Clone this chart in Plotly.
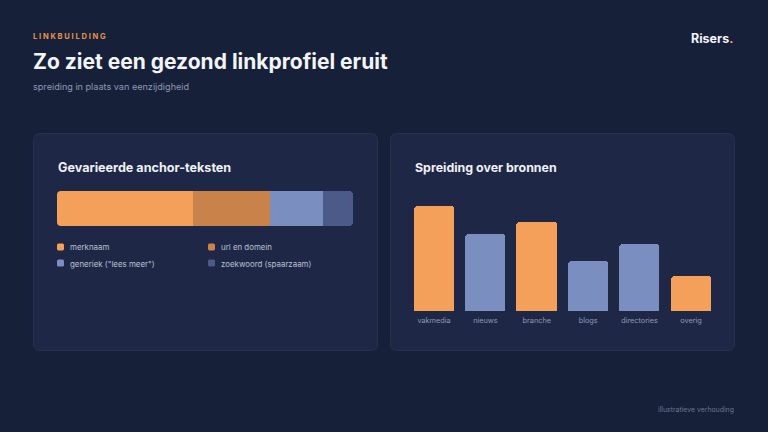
import re
import plotly.graph_objects as go

W, H = 768, 432

# ---- data ----
anchor_labels = ["merknaam", "url en domein", 'generiek ("lees meer")', "zoekwoord (spaarzaam)"]
anchor_values = [46, 26, 18, 10]
anchor_colors = ["#f5a05a", "#c8824a", "#7b8ec0", "#4b5a88"]

source_labels = ["vakmedia", "nieuws", "branche", "blogs", "directories", "overig"]
source_values = [100, 73, 85, 48, 64, 34]
source_colors = ["#f5a05a", "#7b8ec0", "#f5a05a", "#7b8ec0", "#7b8ec0", "#f5a05a"]

BG = "#172039"
CARD = "#1e2846"
CARD_BORDER = "#28324f"
FONT = "Inter"


def px(x):
    return x / W


def py(y):
    return 1 - y / H


fig = go.Figure()

# stacked anchor bar
for lab, val, col in zip(anchor_labels, anchor_values, anchor_colors):
    fig.add_trace(go.Bar(
        x=[val], y=["a"], orientation="h", name=lab,
        marker=dict(color=col, line=dict(width=0)),
        xaxis="x", yaxis="y", showlegend=False, hoverinfo="x+name",
    ))

# source bars
fig.add_trace(go.Bar(
    x=source_labels, y=source_values,
    marker=dict(color=source_colors, line=dict(width=0)),
    xaxis="x2", yaxis="y2", showlegend=False, width=0.78,
))

shapes = []


def conv_path(path):
    def conv(m):
        a, b = float(m.group(1)), float(m.group(2))
        return f"{px(a):.5f},{py(b):.5f}"
    return re.sub(r"(-?[\d.]+),(-?[\d.]+)", conv, path)


def rrect(x0, y0, x1, y1, r, fill, line=None, lw=0, layer="below"):
    path = (f"M{x0+r},{y0} L{x1-r},{y0} Q{x1},{y0} {x1},{y0+r} L{x1},{y1-r} Q{x1},{y1} {x1-r},{y1} "
            f"L{x0+r},{y1} Q{x0},{y1} {x0},{y1-r} L{x0},{y0+r} Q{x0},{y0} {x0+r},{y0} Z")
    shapes.append(dict(type="path", xref="paper", yref="paper", path=conv_path(path),
                       fillcolor=fill, line=dict(color=line or fill, width=lw), layer=layer))


rrect(33.5, 133.5, 377.5, 350.5, 7, CARD, CARD_BORDER, 1)
rrect(390.5, 133.5, 734.5, 350.5, 7, CARD, CARD_BORDER, 1)

# round the left end of the stacked bar (corner masks in card colour)
bx, bt, bb, r = 57, 191, 226, 4
for path in (f"M{bx},{bt} L{bx+r},{bt} Q{bx},{bt} {bx},{bt+r} Z",
             f"M{bx},{bb} L{bx+r},{bb} Q{bx},{bb} {bx},{bb-r} Z"):
    shapes.append(dict(type="path", xref="paper", yref="paper", path=conv_path(path),
                       fillcolor=CARD, line=dict(width=0), layer="above"))

annotations = []


def text(x, y, s, size, color, weight="normal", anchor="left", family=FONT):
    annotations.append(dict(x=px(x), y=py(y), xref="paper", yref="paper", text=s,
                            showarrow=False, xanchor=anchor, yanchor="middle",
                            font=dict(size=size, color=color, family=family, weight=weight)))


text(31, 36, "L I N K B U I L D I N G", 7.5, "#e8934a", "bold")
text(31, 62, "Zo ziet een gezond linkprofiel eruit", 21, "#f3f4f8", "bold")
text(31, 86, "spreiding in plaats van eenzijdigheid", 9.1, "#8e99b4")
text(735, 38, "Risers<span style='color:#f5a05a'>.</span>", 12.5, "#f3f4f8", "bold", anchor="right")
text(736, 409, "illustratieve verhouding", 6.9, "#6b7594", anchor="right")
text(56, 167, "Gevarieerde anchor-teksten", 12.6, "#eef0f5", "bold")
text(413, 167, "Spreiding over bronnen", 12.4, "#eef0f5", "bold")

# legend for anchor bar
leg_pos = [(57, 247), (208, 247), (57, 263), (208, 263)]
for (lx, ly), lab, col in zip(leg_pos, anchor_labels, anchor_colors):
    rrect(lx, ly - 3.5, lx + 7, ly + 3.5, 1.5, col)
    text(lx + 11, ly + 0.5, lab, 7.9, "#b8c0d4")

fig.update_layout(
    width=W, height=H,
    margin=dict(l=0, r=0, t=0, b=0),
    paper_bgcolor=BG, plot_bgcolor="rgba(0,0,0,0)",
    barmode="stack", bargap=0, barcornerradius=4,
    xaxis=dict(domain=[px(57), px(353)], range=[0, 100], visible=False, fixedrange=True),
    yaxis=dict(domain=[py(226), py(191)], visible=False, fixedrange=True),
    xaxis2=dict(domain=[px(408.3), px(716.7)], anchor="y2", showgrid=False, zeroline=False,
                showline=False, ticks="", ticklabelstandoff=4,
                tickfont=dict(size=7.3, color="#8e99b4", family=FONT)),
    yaxis2=dict(domain=[py(311), py(205.7)], range=[0, 100], anchor="x2", visible=False),
    shapes=shapes, annotations=annotations,
    font=dict(family=FONT),
)

fig.write_html("out.html")
